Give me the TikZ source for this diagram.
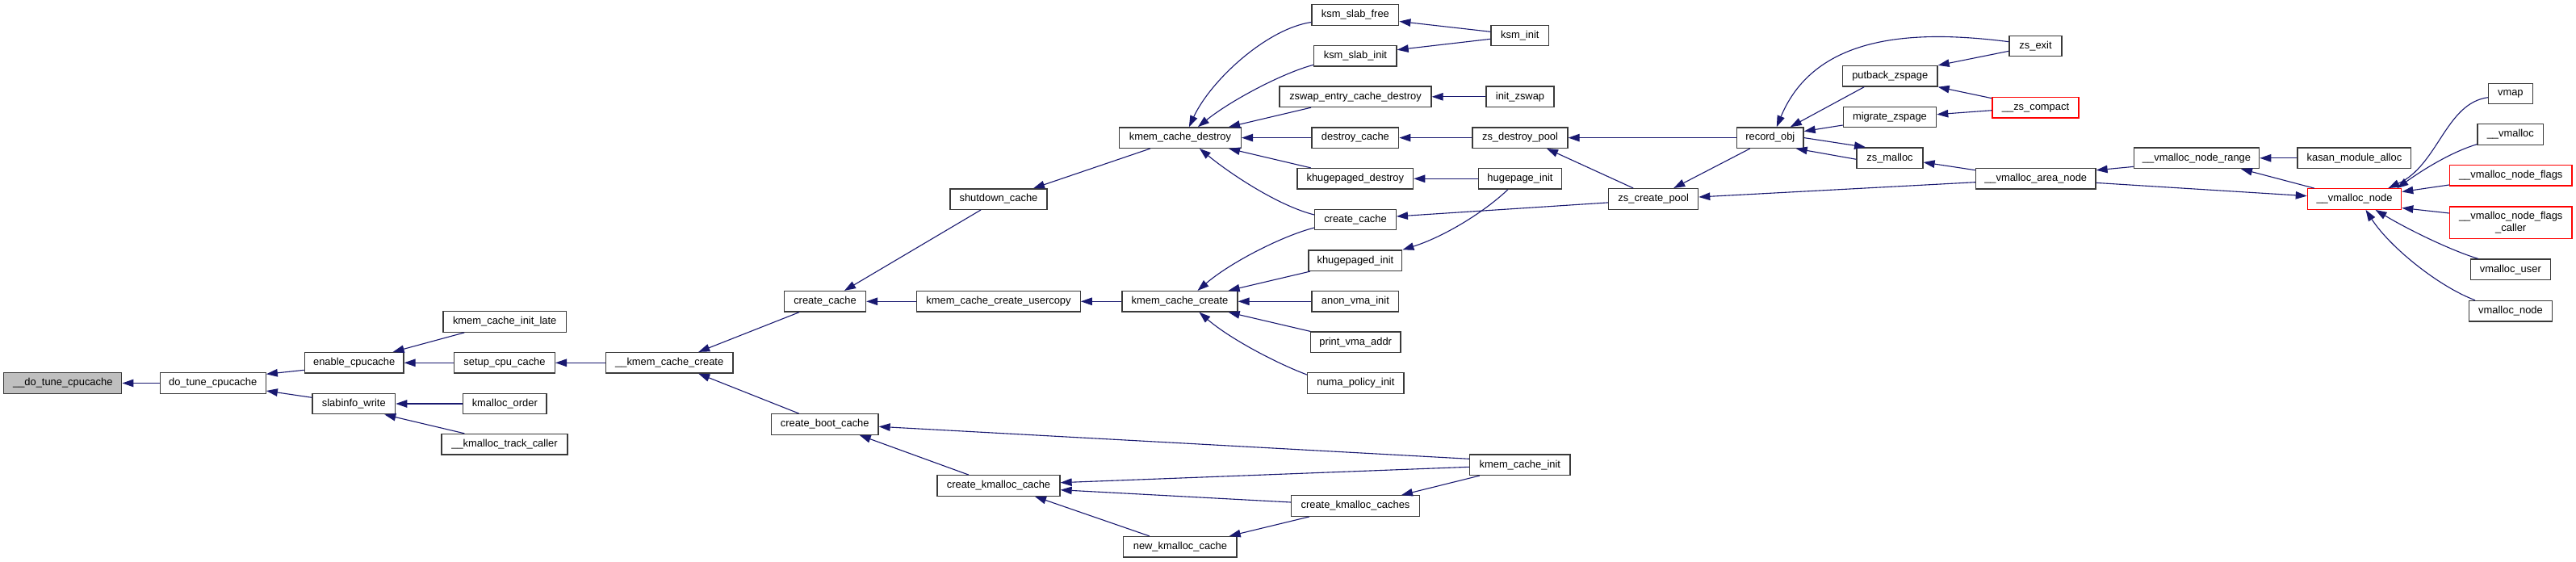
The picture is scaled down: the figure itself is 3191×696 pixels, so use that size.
\documentclass[tikz,border=0pt]{standalone}
\usepackage{fontspec}
\setmainfont{Liberation Sans}
\usetikzlibrary{arrows.meta,calc}
\definecolor{edgeblue}{HTML}{191970}
\definecolor{nodeborder}{HTML}{3A3A3A}
\definecolor{grayfill}{HTML}{BFBFBF}
\definecolor{redborder}{HTML}{FF0000}
\begin{document}
\begin{tikzpicture}[x=1pt,y=-1pt,
  box/.style={draw=nodeborder, line width=1.3pt, fill=white, rectangle, inner sep=0pt,
    minimum height=25.5pt, font=\fontsize{12.9}{15}\selectfont, text=black},
  redbox/.style={box, draw=redborder},
  e/.style={draw=edgeblue, line width=1.1pt, -{Triangle[length=14pt,width=9.5pt]}}]
\fill[white] (0,0) rectangle (3191,696);
\useasboundingbox (0,0) rectangle (3191,696);

% nodes
\node[box,minimum width=146pt,fill=grayfill] (dtcz) at (77.8,474.5) {\_\_do\_tune\_cpucache};
\node[box,minimum width=131pt] (dtc) at (263.7,474.5) {do\_tune\_cpucache};
\node[box,minimum width=122.6pt] (enable) at (438.7,449.3) {enable\_cpucache};
\node[box,minimum width=102.7pt] (slab) at (438.3,500) {slabinfo\_write};
\node[box,minimum width=152.5pt] (kcil) at (625.2,398.5) {kmem\_cache\_init\_late};
\node[box,minimum width=124.7pt] (setup) at (625,449.3) {setup\_cpu\_cache};
\node[box,minimum width=103.3pt] (kmo) at (625.3,500) {kmalloc\_order};
\node[box,minimum width=156pt] (kmtc) at (625,550.2) {\_\_kmalloc\_track\_caller};
\node[box,minimum width=157.6pt] (kcco) at (829.2,449.3) {\_\_kmem\_cache\_create};
\node[box,minimum width=101pt] (cca) at (1022,373.3) {create\_cache};
\node[box,minimum width=132.6pt] (cbc) at (1021.7,525.5) {create\_boot\_cache};
\node[box,minimum width=120pt] (shut) at (1237,246.6) {shutdown\_cache};
\node[box,minimum width=202.4pt] (kccu) at (1237,373.3) {kmem\_cache\_create\_usercopy};
\node[box,minimum width=152pt] (ckc) at (1237,601.5) {create\_kmalloc\_cache};
\node[box,minimum width=151pt] (kcd) at (1461.9,170.6) {kmem\_cache\_destroy};
\node[box,minimum width=143pt] (kcc) at (1461.5,373.3) {kmem\_cache\_create};
\node[box,minimum width=140.3pt] (nkc) at (1461.9,677.3) {new\_kmalloc\_cache};
\node[box,minimum width=107.7pt] (ksf) at (1678.9,18.5) {ksm\_slab\_free};
\node[box,minimum width=102.3pt] (ksi) at (1678.9,69.3) {ksm\_slab\_init};
\node[box,minimum width=188pt] (zecd) at (1679,119.8) {zswap\_entry\_cache\_destroy};
\node[box,minimum width=107.7pt] (dc) at (1678.9,170.6) {destroy\_cache};
\node[box,minimum width=143.6pt] (khd) at (1678.8,221.3) {khugepaged\_destroy};
\node[box,minimum width=100.6pt] (ccb) at (1679,272) {create\_cache};
\node[box,minimum width=115.8pt] (khi) at (1678.9,322.7) {khugepaged\_init};
\node[box,minimum width=107.7pt] (avi) at (1678.9,373.3) {anon\_vma\_init};
\node[box,minimum width=111.5pt] (pva) at (1679.2,423.8) {print\_vma\_addr};
\node[box,minimum width=119.2pt] (npi) at (1679.4,474.5) {numa\_policy\_init};
\node[box,minimum width=159.1pt] (ckcs) at (1679,626.5) {create\_kmalloc\_caches};
\node[box,minimum width=71.6pt] (ksmi) at (1882.8,43.9) {ksm\_init};
\node[box,minimum width=84pt] (izs) at (1883,119.8) {init\_zswap};
\node[box,minimum width=118pt] (zdp) at (1883,170.6) {zs\_destroy\_pool};
\node[box,minimum width=103pt] (hpi) at (1883,221.3) {hugepage\_init};
\node[box,minimum width=124.5pt] (kci) at (1882.8,575.7) {kmem\_cache\_init};
\node[box,minimum width=110.9pt] (zcp) at (2048.2,246.4) {zs\_create\_pool};
\node[box,minimum width=82.5pt] (ro) at (2192.8,170.6) {record\_obj};
\node[box,minimum width=117.7pt] (pz) at (2341.2,94.3) {putback\_zspage};
\node[box,minimum width=115.3pt] (mz) at (2341,145) {migrate\_zspage};
\node[box,minimum width=81.9pt] (zm) at (2341,195.7) {zs\_malloc};
\node[box,minimum width=65pt] (zse) at (2521.5,57) {zs\_exit};
\node[redbox,minimum width=107pt] (zsc) at (2521.5,133.3) {\_\_zs\_compact};
\node[box,minimum width=148.5pt] (van) at (2521.7,221.1) {\_\_vmalloc\_area\_node};
\node[box,minimum width=155.3pt] (vnr) at (2721,195.8) {\_\_vmalloc\_node\_range};
\node[box,minimum width=140.8pt] (kma) at (2916.4,195.8) {kasan\_module\_alloc};
\node[redbox,minimum width=116.3pt] (vn) at (2916.5,246.5) {\_\_vmalloc\_node};
\node[box,minimum width=54.8pt] (vmap) at (3109.8,116) {vmap};
\node[box,minimum width=81.7pt] (vmal) at (3109.8,166.5) {\_\_vmalloc};
\node[redbox,minimum width=151.6pt] (vnf) at (3110.2,217.2) {\_\_vmalloc\_node\_flags};
\node[redbox,minimum width=151.6pt,minimum height=39.7pt,align=center] (vnfc) at (3110.2,275.8) {\_\_vmalloc\_node\_flags\\\_caller};
\node[box,minimum width=99pt] (vu) at (3109.8,333.8) {vmalloc\_user};
\node[box,minimum width=102.8pt] (vnd) at (3110,385.2) {vmalloc\_node};

% edges, left part
\draw[e] (dtc) -- (dtcz);
\draw[e] ($(enable.west)+(0,9)$) -- ($(dtc.east)+(0,-11.2)$);
\draw[e] ($(slab.west)+(0,-7.7)$) -- ($(dtc.east)+(0,9.5)$);
\draw[e] ($(kcil.south west)+(27,0)$) -- ($(enable.north east)+(-14,0)$);
\draw[e] (setup) -- (enable);
\draw[e] (kmo) -- (slab);
\draw[e] ($(kmtc.north west)+(29,0)$) -- ($(slab.south east)+(-14,0)$);
\draw[e] (kcco) -- (setup);
\draw[e] ($(cca.south)+(-32,0)$) -- ($(kcco.north)+(36,0)$);
\draw[e] ($(cbc.north)+(-32,0)$) -- ($(kcco.south)+(36,0)$);
\draw[e] ($(shut.south)+(-22,0)$) -- ($(cca.north)+(24,0)$);
\draw[e] (kccu) -- (cca);
\draw[e] ($(kcd.south)+(-37,0)$) -- ($(shut.north)+(43,0)$);
\draw[e] (kcc) -- (kccu);
\draw[e] ($(ckc.north)+(-37,0)$) -- ($(cbc.south)+(43,0)$);
\draw[e] ($(kci.west)+(0,-7.4)$) -- ($(cbc.east)+(0,2.8)$);
\draw[e] ($(kci.west)+(0,2.6)$) -- ($(ckc.east)+(0,-3.8)$);
\draw[e] ($(ckcs.west)+(0,-4.5)$) -- ($(ckc.east)+(0,5.2)$);
\draw[e] ($(nkc.north)+(-38,0)$) -- ($(ckc.south)+(45,0)$);
\draw[e] ($(ckcs.south)+(-57,0)$) -- ($(nkc.north east)+(-10,0)$);
\draw[e] ($(kci.south)+(-50,0)$) -- ($(ckcs.north)+(57,0)$);

% kmem_cache_destroy callers
\draw[e] ($(ksf.west)+(0,9)$) .. controls +(-55,8) and +(27,-58) .. ($(kcd.north)+(11,0)$);
\draw[e] ($(ksi.west)+(0,11)$) .. controls +(-38,10) and +(41,-33) .. ($(kcd.north)+(22,0)$);
\draw[e] ($(zecd.south)+(-55,0)$) -- ($(kcd.north east)+(-16,0)$);
\draw[e] (dc) -- (kcd);
\draw[e] ($(khd.north)+(-55,0)$) -- ($(kcd.south east)+(-16,0)$);
\draw[e] ($(ccb.west)+(0,-6)$) .. controls +(-44,-11) and +(39,32) .. ($(kcd.south)+(24,0)$);

% kmem_cache_create callers
\draw[e] ($(ccb.west)+(0,10)$) .. controls +(-39,10) and +(41.5,-35.5) .. ($(kcc.north)+(22,0)$);
\draw[e] ($(khi.south)+(-56,0)$) -- ($(kcc.north east)+(-12,0)$);
\draw[e] (avi) -- (kcc);
\draw[e] ($(pva.north)+(-56,0)$) -- ($(kcc.south east)+(-12,0)$);
\draw[e] ($(npi.north west)+(0,3)$) .. controls +(-35,-13) and +(39.5,34) .. ($(kcc.south)+(24,0)$);

% next rank
\draw[e] ($(ksmi.west)+(0,-4.6)$) -- ($(ksf.east)+(0,8)$);
\draw[e] ($(ksmi.west)+(0,4.4)$) -- ($(ksi.east)+(0,-7.6)$);
\draw[e] (izs) -- (zecd);
\draw[e] (zdp) -- (dc);
\draw[e] (hpi) -- (khd);
\draw[e] ($(zcp.west)+(0,4.5)$) -- ($(ccb.east)+(0,-4)$);
\draw[e] ($(hpi.south)+(-15,0)$) .. controls +(-33,31) and +(48,-15) .. (khi.north east);

% zsmalloc part
\draw[e] (ro) -- (zdp);
\draw[e] ($(zcp.north)+(-25,0)$) -- ($(zdp.south)+(33,0)$);
\draw[e] ($(ro.south)+(-25,0)$) -- ($(zcp.north)+(25,0)$);
\draw[e] ($(van.west)+(0,4.6)$) -- ($(zcp.east)+(0,-2.4)$);
\draw[e] ($(zse.west)+(0,-5.3)$) .. controls +(-110,-14) and +(49,-118) .. ($(ro.north)+(8,0)$);
\draw[e] ($(pz.south)+(-32,0)$) -- ($(ro.north)+(25,0)$);
\draw[e] ($(mz.west)+(0,10)$) -- ($(ro.east)+(0,-8)$);
\draw[e] (ro.east) -- ($(zm.north)+(-30,0)$);
\draw[e] ($(zm.west)+(0,1.6)$) -- ($(ro.south east)+(-10,0)$);
\draw[e] ($(zse.west)+(0,6.3)$) -- (pz.north east);
\draw[e] ($(zsc.west)+(0,-11.6)$) -- (pz.south east);
\draw[e] ($(zsc.west)+(0,3.4)$) -- ($(mz.east)+(0,-3.3)$);
\draw[e] ($(van.west)+(0,-10.4)$) -- ($(zm.east)+(0,5.3)$);

% vmalloc part
\draw[e] ($(vnr.west)+(0,10.6)$) -- ($(van.east)+(0,-10.3)$);
\draw[e] ($(van.east)+(0,5.3)$) -- ($(vn.west)+(0,-3.8)$);
\draw[e] (kma) -- (vnr);
\draw[e] ($(vn.north west)+(9,0)$) -- ($(vnr.south)+(55,0)$);
\draw[e] ($(vmap.west)+(0,4.7)$) .. controls +(-52.4,7.3) and +(62,-28.7) .. ($(vn.north east)+(-17,0)$);
\draw[e] ($(vmal.west)+(0,12.2)$) .. controls +(-30,9) and +(35,-25) .. ($(vn.north east)+(-6,0)$);
\draw[e] ($(vnf.west)+(0,11.8)$) -- ($(vn.east)+(0,-9)$);
\draw[e] ($(vnfc.west)+(0,-11.8)$) -- ($(vn.east)+(0,11)$);
\draw[e] ($(vu.north)+(-40,0)$) .. controls +(-30,-9) and +(45,27) .. ($(vn.south)+(26,0)$);
\draw[e] ($(vnd.north)+(-44,0)$) .. controls +(-46,-17.4) and +(29.5,45.7) .. ($(vn.south)+(14,0)$);
\end{tikzpicture}
\end{document}
